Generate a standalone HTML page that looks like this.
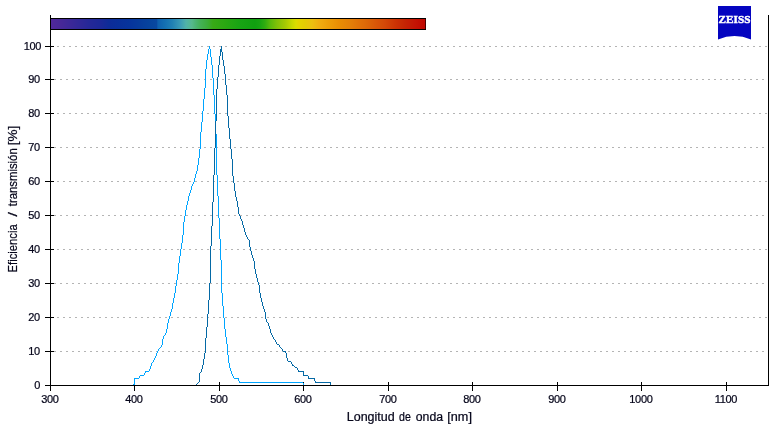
<!DOCTYPE html>
<html><head><meta charset="utf-8"><title>Spectrum</title>
<style>
html,body{margin:0;padding:0;background:#fff;}
body{width:783px;height:426px;overflow:hidden;}
svg{display:block;}
text{font-family:"Liberation Sans",sans-serif;fill:#05051a;stroke:#05051a;stroke-width:0.22px;}
.t{font-size:11px;letter-spacing:-0.3px;}
.ti{font-size:12px;}
</style></head><body>
<svg width="783" height="426" viewBox="0 0 783 426">
<defs><linearGradient id="sp" x1="0" y1="0" x2="1" y2="0"><stop offset="0.00%" stop-color="#50289c"/><stop offset="2.41%" stop-color="#482898"/><stop offset="5.08%" stop-color="#3c2898"/><stop offset="7.75%" stop-color="#302898"/><stop offset="10.43%" stop-color="#242898"/><stop offset="13.10%" stop-color="#1c2898"/><stop offset="15.78%" stop-color="#0c2c98"/><stop offset="18.45%" stop-color="#08309a"/><stop offset="21.12%" stop-color="#06349c"/><stop offset="23.80%" stop-color="#063c9c"/><stop offset="26.47%" stop-color="#06449e"/><stop offset="28.21%" stop-color="#0848a0"/><stop offset="28.61%" stop-color="#0e60ae"/><stop offset="30.48%" stop-color="#1470b2"/><stop offset="32.35%" stop-color="#2080b4"/><stop offset="34.49%" stop-color="#3a9ab6"/><stop offset="36.10%" stop-color="#50b2a8"/><stop offset="37.70%" stop-color="#56b88c"/><stop offset="38.50%" stop-color="#4cb478"/><stop offset="39.84%" stop-color="#44b058"/><stop offset="41.71%" stop-color="#3cac3c"/><stop offset="43.32%" stop-color="#38aa16"/><stop offset="46.52%" stop-color="#2aa812"/><stop offset="50.53%" stop-color="#18a414"/><stop offset="54.55%" stop-color="#10a010"/><stop offset="55.88%" stop-color="#18a412"/><stop offset="57.22%" stop-color="#30ac10"/><stop offset="58.56%" stop-color="#58b80c"/><stop offset="60.43%" stop-color="#80c008"/><stop offset="62.57%" stop-color="#a4c804"/><stop offset="64.44%" stop-color="#c8d800"/><stop offset="65.51%" stop-color="#dcdc00"/><stop offset="66.31%" stop-color="#e4d400"/><stop offset="67.91%" stop-color="#e4cc04"/><stop offset="69.79%" stop-color="#ecc010"/><stop offset="71.93%" stop-color="#f0ac10"/><stop offset="74.60%" stop-color="#ec9c08"/><stop offset="77.27%" stop-color="#e88c04"/><stop offset="79.95%" stop-color="#e48008"/><stop offset="82.62%" stop-color="#e07008"/><stop offset="84.22%" stop-color="#dc6808"/><stop offset="86.63%" stop-color="#d85808"/><stop offset="89.30%" stop-color="#d44808"/><stop offset="91.98%" stop-color="#cc3404"/><stop offset="94.65%" stop-color="#c42404"/><stop offset="97.33%" stop-color="#c41404"/><stop offset="99.73%" stop-color="#c00800"/></linearGradient></defs>
<rect width="783" height="426" fill="#fff"/>
<g shape-rendering="crispEdges">
<line x1="57" y1="46.5" x2="768" y2="46.5" stroke="#b4b4b4" stroke-width="1" stroke-dasharray="2 4"/>
<line x1="54" y1="79.5" x2="768" y2="79.5" stroke="#b4b4b4" stroke-width="1" stroke-dasharray="2 4"/>
<line x1="57" y1="113.5" x2="768" y2="113.5" stroke="#b4b4b4" stroke-width="1" stroke-dasharray="2 4"/>
<line x1="54" y1="147.5" x2="768" y2="147.5" stroke="#b4b4b4" stroke-width="1" stroke-dasharray="2 4"/>
<line x1="57" y1="181.5" x2="768" y2="181.5" stroke="#b4b4b4" stroke-width="1" stroke-dasharray="2 4"/>
<line x1="54" y1="215.5" x2="768" y2="215.5" stroke="#b4b4b4" stroke-width="1" stroke-dasharray="2 4"/>
<line x1="57" y1="249.5" x2="768" y2="249.5" stroke="#b4b4b4" stroke-width="1" stroke-dasharray="2 4"/>
<line x1="54" y1="283.5" x2="768" y2="283.5" stroke="#b4b4b4" stroke-width="1" stroke-dasharray="2 4"/>
<line x1="57" y1="317.5" x2="768" y2="317.5" stroke="#b4b4b4" stroke-width="1" stroke-dasharray="2 4"/>
<line x1="54" y1="351.5" x2="768" y2="351.5" stroke="#b4b4b4" stroke-width="1" stroke-dasharray="2 4"/>
<rect x="51" y="18" width="375" height="12" fill="#000"/>
<rect x="51" y="19" width="374" height="10" fill="url(#sp)"/>
<rect x="425" y="19" width="1" height="10" fill="#480000"/>
<rect x="50" y="15" width="1" height="371" fill="#000"/>
<rect x="768" y="15" width="1" height="371" fill="#000"/>
<rect x="50" y="385" width="719" height="1" fill="#000"/>
<rect x="45" y="46" width="9" height="1" fill="#000"/>
<rect x="45" y="79" width="9" height="1" fill="#000"/>
<rect x="45" y="113" width="9" height="1" fill="#000"/>
<rect x="45" y="147" width="9" height="1" fill="#000"/>
<rect x="45" y="181" width="9" height="1" fill="#000"/>
<rect x="45" y="215" width="9" height="1" fill="#000"/>
<rect x="45" y="249" width="9" height="1" fill="#000"/>
<rect x="45" y="283" width="9" height="1" fill="#000"/>
<rect x="45" y="317" width="9" height="1" fill="#000"/>
<rect x="45" y="351" width="9" height="1" fill="#000"/>
<rect x="45" y="385" width="9" height="1" fill="#000"/>
<rect x="50" y="382" width="1" height="9" fill="#000"/>
<rect x="134" y="382" width="1" height="9" fill="#000"/>
<rect x="219" y="382" width="1" height="9" fill="#000"/>
<rect x="303" y="382" width="1" height="9" fill="#000"/>
<rect x="388" y="382" width="1" height="9" fill="#000"/>
<rect x="472" y="382" width="1" height="9" fill="#000"/>
<rect x="557" y="382" width="1" height="9" fill="#000"/>
<rect x="641" y="382" width="1" height="9" fill="#000"/>
<rect x="726" y="382" width="1" height="9" fill="#000"/>
<path d="M133,384h1v1h-1zM134,378h1v7h-1zM135,378h1v1h-1zM136,378h1v1h-1zM137,378h1v1h-1zM138,378h1v1h-1zM139,376h1v2h-1zM140,375h1v1h-1zM141,375h1v1h-1zM142,375h1v1h-1zM143,375h1v1h-1zM144,373h1v2h-1zM145,371h1v2h-1zM146,371h1v1h-1zM147,371h1v1h-1zM148,371h1v1h-1zM149,369h1v2h-1zM150,366h1v3h-1zM151,363h1v3h-1zM152,362h1v1h-1zM153,360h1v2h-1zM154,358h1v2h-1zM155,356h1v2h-1zM156,353h1v3h-1zM157,351h1v2h-1zM158,349h1v2h-1zM159,348h1v1h-1zM160,347h1v1h-1zM161,345h1v2h-1zM162,339h1v6h-1zM163,336h1v3h-1zM164,335h1v1h-1zM165,333h1v2h-1zM166,329h1v4h-1zM167,323h1v6h-1zM168,319h1v4h-1zM169,316h1v3h-1zM170,312h1v4h-1zM171,309h1v3h-1zM172,303h1v6h-1zM173,298h1v5h-1zM174,293h1v5h-1zM175,286h1v7h-1zM176,280h1v6h-1zM177,274h1v6h-1zM178,263h1v11h-1zM179,256h1v7h-1zM180,249h1v7h-1zM181,243h1v6h-1zM182,235h1v8h-1zM183,222h1v13h-1zM184,216h1v6h-1zM185,210h1v6h-1zM186,205h1v5h-1zM187,201h1v4h-1zM188,196h1v5h-1zM189,193h1v3h-1zM190,190h1v3h-1zM191,186h1v4h-1zM192,184h1v2h-1zM193,182h1v2h-1zM194,178h1v4h-1zM195,174h1v4h-1zM196,171h1v3h-1zM197,165h1v6h-1zM198,158h1v7h-1zM199,149h1v9h-1zM200,132h1v17h-1zM201,122h1v10h-1zM202,111h1v11h-1zM203,99h1v12h-1zM204,88h1v11h-1zM205,69h1v19h-1zM206,60h1v9h-1zM207,54h1v6h-1zM208,49h1v5h-1zM209,46h1v3h-1zM210,49h1v8h-1zM211,57h1v8h-1zM212,65h1v13h-1zM213,78h1v17h-1zM214,95h1v19h-1zM215,114h1v20h-1zM216,134h1v41h-1zM217,175h1v21h-1zM218,196h1v22h-1zM219,218h1v21h-1zM220,239h1v21h-1zM221,260h1v33h-1zM222,293h1v13h-1zM223,306h1v12h-1zM224,318h1v11h-1zM225,329h1v8h-1zM226,337h1v7h-1zM227,344h1v11h-1zM228,355h1v8h-1zM229,363h1v5h-1zM230,368h1v3h-1zM231,371h1v3h-1zM232,374h1v2h-1zM233,376h1v2h-1zM234,378h1v1h-1zM235,378h1v1h-1zM236,378h1v1h-1zM237,378h1v1h-1zM238,378h1v3h-1zM239,381h1v2h-1zM240,382h1v1h-1zM241,382h1v1h-1zM242,382h1v1h-1zM243,382h1v1h-1zM244,382h1v1h-1zM245,382h1v1h-1zM246,382h1v1h-1zM247,382h1v1h-1zM248,382h1v1h-1zM249,382h1v1h-1zM250,382h1v1h-1zM251,382h1v1h-1zM252,382h1v1h-1zM253,382h1v1h-1zM254,382h1v1h-1zM255,382h1v1h-1zM256,382h1v1h-1zM257,382h1v1h-1zM258,382h1v1h-1zM259,382h1v1h-1zM260,382h1v1h-1zM261,382h1v1h-1zM262,382h1v1h-1zM263,382h1v1h-1zM264,382h1v1h-1zM265,382h1v1h-1zM266,382h1v1h-1zM267,382h1v1h-1zM268,382h1v1h-1zM269,382h1v1h-1zM270,382h1v1h-1zM271,382h1v1h-1zM272,382h1v1h-1zM273,382h1v1h-1zM274,382h1v1h-1zM275,382h1v1h-1zM276,382h1v1h-1zM277,382h1v1h-1zM278,382h1v1h-1zM279,382h1v1h-1zM280,382h1v1h-1zM281,382h1v1h-1zM282,382h1v1h-1zM283,382h1v1h-1zM284,382h1v1h-1zM285,382h1v1h-1zM286,382h1v1h-1zM287,382h1v1h-1zM288,382h1v1h-1zM289,382h1v1h-1zM290,382h1v1h-1zM291,382h1v1h-1zM292,382h1v1h-1zM293,382h1v1h-1zM294,382h1v1h-1zM295,382h1v1h-1zM296,382h1v1h-1zM297,382h1v1h-1zM298,382h1v1h-1zM299,382h1v1h-1zM300,382h1v1h-1zM301,382h1v1h-1zM302,382h1v1h-1zM303,383h1v2h-1z" fill="#00a5ff"/>
<path d="M196,384h1v1h-1zM197,383h1v1h-1zM198,382h1v1h-1zM199,373h1v9h-1zM200,372h1v1h-1zM201,369h1v3h-1zM202,365h1v4h-1zM203,359h1v6h-1zM204,353h1v6h-1zM205,338h1v15h-1zM206,327h1v11h-1zM207,314h1v13h-1zM208,300h1v14h-1zM209,283h1v17h-1zM210,246h1v37h-1zM211,226h1v20h-1zM212,202h1v24h-1zM213,175h1v27h-1zM214,148h1v27h-1zM215,121h1v27h-1zM216,89h1v32h-1zM217,77h1v12h-1zM218,65h1v12h-1zM219,56h1v9h-1zM220,49h1v7h-1zM221,46h1v6h-1zM222,52h1v8h-1zM223,60h1v6h-1zM224,66h1v8h-1zM225,74h1v11h-1zM226,85h1v10h-1zM227,95h1v21h-1zM228,116h1v12h-1zM229,128h1v11h-1zM230,139h1v10h-1zM231,149h1v10h-1zM232,159h1v17h-1zM233,176h1v7h-1zM234,183h1v8h-1zM235,191h1v6h-1zM236,197h1v4h-1zM237,201h1v6h-1zM238,207h1v7h-1zM239,214h1v2h-1zM240,216h1v3h-1zM241,219h1v2h-1zM242,221h1v4h-1zM243,225h1v3h-1zM244,228h1v4h-1zM245,232h1v3h-1zM246,235h1v2h-1zM247,237h1v2h-1zM248,239h1v1h-1zM249,240h1v7h-1zM250,247h1v4h-1zM251,251h1v4h-1zM252,255h1v3h-1zM253,258h1v3h-1zM254,261h1v8h-1zM255,269h1v5h-1zM256,274h1v4h-1zM257,278h1v4h-1zM258,282h1v3h-1zM259,285h1v8h-1zM260,293h1v5h-1zM261,298h1v4h-1zM262,302h1v4h-1zM263,306h1v3h-1zM264,309h1v3h-1zM265,312h1v7h-1zM266,319h1v3h-1zM267,322h1v1h-1zM268,323h1v3h-1zM269,326h1v3h-1zM270,329h1v4h-1zM271,333h1v2h-1zM272,335h1v2h-1zM273,337h1v2h-1zM274,339h1v1h-1zM275,340h1v2h-1zM276,342h1v2h-1zM277,344h1v1h-1zM278,344h1v1h-1zM279,345h1v2h-1zM280,347h1v1h-1zM281,348h1v1h-1zM282,349h1v2h-1zM283,351h1v1h-1zM284,351h1v1h-1zM285,351h1v2h-1zM286,353h1v5h-1zM287,358h1v3h-1zM288,361h1v1h-1zM289,361h1v1h-1zM290,361h1v1h-1zM291,362h1v2h-1zM292,364h1v2h-1zM293,365h1v1h-1zM294,366h1v1h-1zM295,367h1v1h-1zM296,367h1v1h-1zM297,368h1v2h-1zM298,370h1v2h-1zM299,371h1v1h-1zM300,371h1v1h-1zM301,371h1v1h-1zM302,371h1v1h-1zM303,371h1v5h-1zM304,375h1v1h-1zM305,375h1v1h-1zM306,375h1v1h-1zM307,375h1v1h-1zM308,376h1v3h-1zM309,378h1v1h-1zM310,378h1v1h-1zM311,378h1v1h-1zM312,378h1v1h-1zM313,378h1v1h-1zM314,378h1v3h-1zM315,381h1v2h-1zM316,382h1v1h-1zM317,382h1v1h-1zM318,382h1v1h-1zM319,382h1v1h-1zM320,382h1v1h-1zM321,382h1v1h-1zM322,382h1v1h-1zM323,382h1v1h-1zM324,382h1v1h-1zM325,382h1v1h-1zM326,382h1v1h-1zM327,382h1v1h-1zM328,382h1v1h-1zM329,382h1v1h-1zM330,382h1v3h-1z" fill="#0569a5"/>
</g>
<text class="t" x="41.2" y="50" text-anchor="end">100</text>
<text class="t" x="39.8" y="83" text-anchor="end">90</text>
<text class="t" x="39.8" y="117" text-anchor="end">80</text>
<text class="t" x="39.8" y="151" text-anchor="end">70</text>
<text class="t" x="39.8" y="185" text-anchor="end">60</text>
<text class="t" x="39.8" y="219" text-anchor="end">50</text>
<text class="t" x="39.8" y="253" text-anchor="end">40</text>
<text class="t" x="39.8" y="287" text-anchor="end">30</text>
<text class="t" x="39.8" y="321" text-anchor="end">20</text>
<text class="t" x="39.8" y="355" text-anchor="end">10</text>
<text class="t" x="40.1" y="389" text-anchor="end">0</text>
<text class="t" x="49.9" y="403" text-anchor="middle">300</text>
<text class="t" x="133.9" y="403" text-anchor="middle">400</text>
<text class="t" x="218.9" y="403" text-anchor="middle">500</text>
<text class="t" x="302.9" y="403" text-anchor="middle">600</text>
<text class="t" x="387.9" y="403" text-anchor="middle">700</text>
<text class="t" x="471.9" y="403" text-anchor="middle">800</text>
<text class="t" x="556.9" y="403" text-anchor="middle">900</text>
<text class="t" x="640.9" y="403" text-anchor="middle">1000</text>
<text class="t" x="725.9" y="403" text-anchor="middle">1100</text>
<text class="ti" x="346.8" y="421" textLength="47.9" lengthAdjust="spacingAndGlyphs">Longitud</text>
<text class="ti" x="399" y="421" textLength="11.8" lengthAdjust="spacingAndGlyphs">de</text>
<text class="ti" x="415.8" y="421" textLength="27.3" lengthAdjust="spacingAndGlyphs">onda</text>
<text class="ti" x="447.3" y="421" textLength="24.6" lengthAdjust="spacingAndGlyphs">[nm]</text>
<text class="ti" transform="translate(17,272.4) rotate(-90)" textLength="48.1" lengthAdjust="spacingAndGlyphs">Eficiencia</text>
<text class="ti" transform="translate(17,216.6) rotate(-90)" textLength="4.4" lengthAdjust="spacingAndGlyphs">/</text>
<text class="ti" transform="translate(17,206.2) rotate(-90)" textLength="57.9" lengthAdjust="spacingAndGlyphs">transmisión</text>
<text class="ti" transform="translate(17,145.3) rotate(-90)" textLength="19.5" lengthAdjust="spacingAndGlyphs">[%]</text>
<path d="M718,6 H751 V39.4 A43,43 0 0 0 718,39.4 Z" fill="#0404c0"/>
<text x="734.5" y="22.6" text-anchor="middle" textLength="31.8" lengthAdjust="spacingAndGlyphs" style="font-family:'Liberation Serif',serif;font-weight:bold;font-size:11px;fill:#fff;stroke:#fff;stroke-width:0.45px">ZEISS</text>
</svg></body></html>
